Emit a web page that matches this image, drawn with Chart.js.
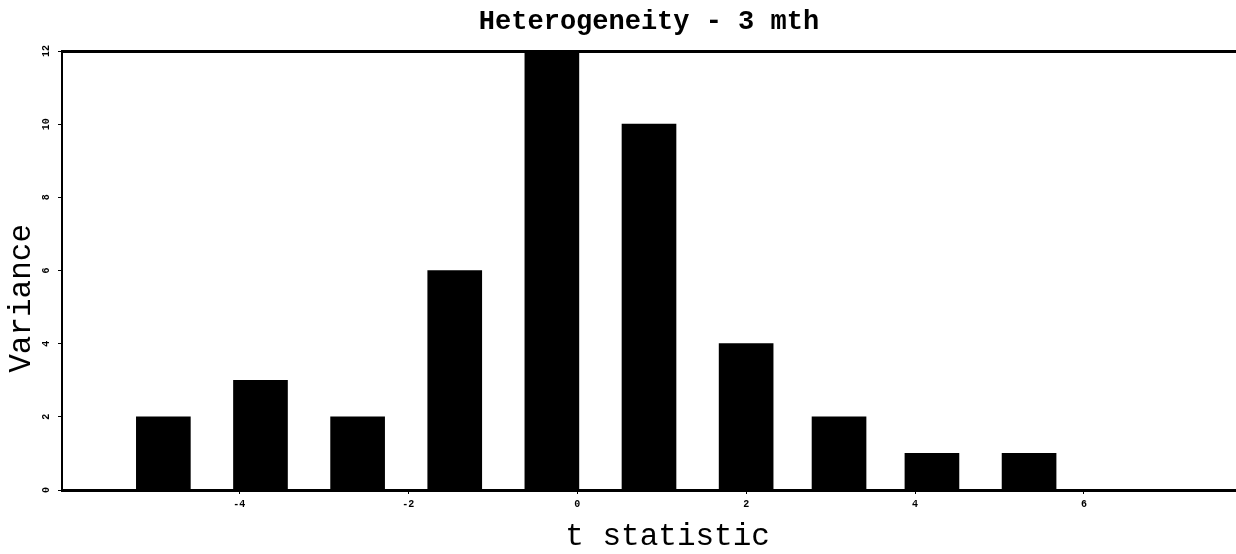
<!DOCTYPE html>
<html>
<head>
<meta charset="utf-8">
<script src="https://cdn.jsdelivr.net/npm/chart.js@4/dist/chart.umd.min.js"></script>
<style>
  html, body { margin: 0; padding: 0; background: #fff; }
  #wrap { width: 1236px; height: 554px; }
</style>
</head>
<body>
<div id="wrap"><canvas id="myChart" width="1236" height="554"></canvas></div>
<script>
// DATA
var binCentres = [-4.9, -3.75, -2.6, -1.45, -0.3, 0.85, 2.0, 3.1, 4.2, 5.35];
var variance   = [2, 3, 2, 6, 12, 10, 4, 2, 1, 1];
var xTicks     = [-4, -2, 0, 2, 4, 6];
var yTicks     = [0, 2, 4, 6, 8, 10, 12];

var monoFont = "'Liberation Mono', 'DejaVu Sans Mono', monospace";

var points = binCentres.map(function (x, i) {
  return { x: x, y: variance[i] };
});

var ctx = document.getElementById('myChart').getContext('2d');
var chart = new Chart(ctx, {
  type: 'bar',
  data: {
    datasets: [{
      data: points,
      backgroundColor: '#000',
      borderWidth: 0,
      barThickness: 54
    }]
  },
  options: {
    responsive: false,
    animation: false,
    layout: { padding: 0 },
    plugins: {
      legend: { display: false },
      tooltip: { enabled: false },
      title: {
        display: true,
        text: 'Heterogeneity - 3 mth',
        fullSize: false,
        color: '#000',
        font: { family: monoFont, size: 27, weight: 'bold', lineHeight: 1.2 },
        padding: { top: 6, bottom: 12.6 }
      }
    },
    scales: {
      x: {
        type: 'linear',
        position: 'bottom',
        min: -6.1,
        max: 7.8,
        offset: false,
        afterBuildTicks: function (scale) {
          scale.ticks = xTicks.map(function (v) { return { value: v }; });
        },
        afterFit: function (scale) { scale.height = 64; },
        grid: { display: true, drawOnChartArea: false, offset: false, tickLength: 4, color: '#000' },
        border: { display: true, color: '#000', width: 3 },
        ticks: {
          color: '#000',
          padding: 4,
          maxRotation: 0,
          font: { family: monoFont, size: 10, weight: 'bold' }
        },
        title: {
          display: true,
          text: '  t statistic',
          color: '#000',
          font: { family: monoFont, size: 31, lineHeight: 1 },
          padding: { top: 0, bottom: 1.5 }
        }
      },
      xTop: {
        type: 'linear',
        position: 'top',
        min: -6.1,
        max: 7.8,
        afterFit: function (scale) { scale.height = 0; },
        grid: { display: false, drawTicks: false },
        border: { display: true, color: '#000', width: 3 },
        ticks: { display: false }
      },
      y: {
        min: 0,
        max: 12,
        afterBuildTicks: function (scale) {
          scale.ticks = yTicks.map(function (v) { return { value: v }; });
        },
        afterFit: function (scale) { scale.width = 62; },
        grid: { display: true, drawOnChartArea: false, tickLength: 4, color: '#000' },
        border: { display: true, color: '#000', width: 2 },
        ticks: {
          color: '#000',
          padding: 6,
          minRotation: 90,
          maxRotation: 90,
          crossAlign: 'center',
          font: { family: monoFont, size: 10, weight: 'bold' }
        },
        title: {
          display: true,
          text: 'Variance   ',
          color: '#000',
          font: { family: monoFont, size: 31, lineHeight: 1.2 },
          padding: { top: 3, bottom: 0 }
        }
      }
    }
  }
});
</script>
</body>
</html>
